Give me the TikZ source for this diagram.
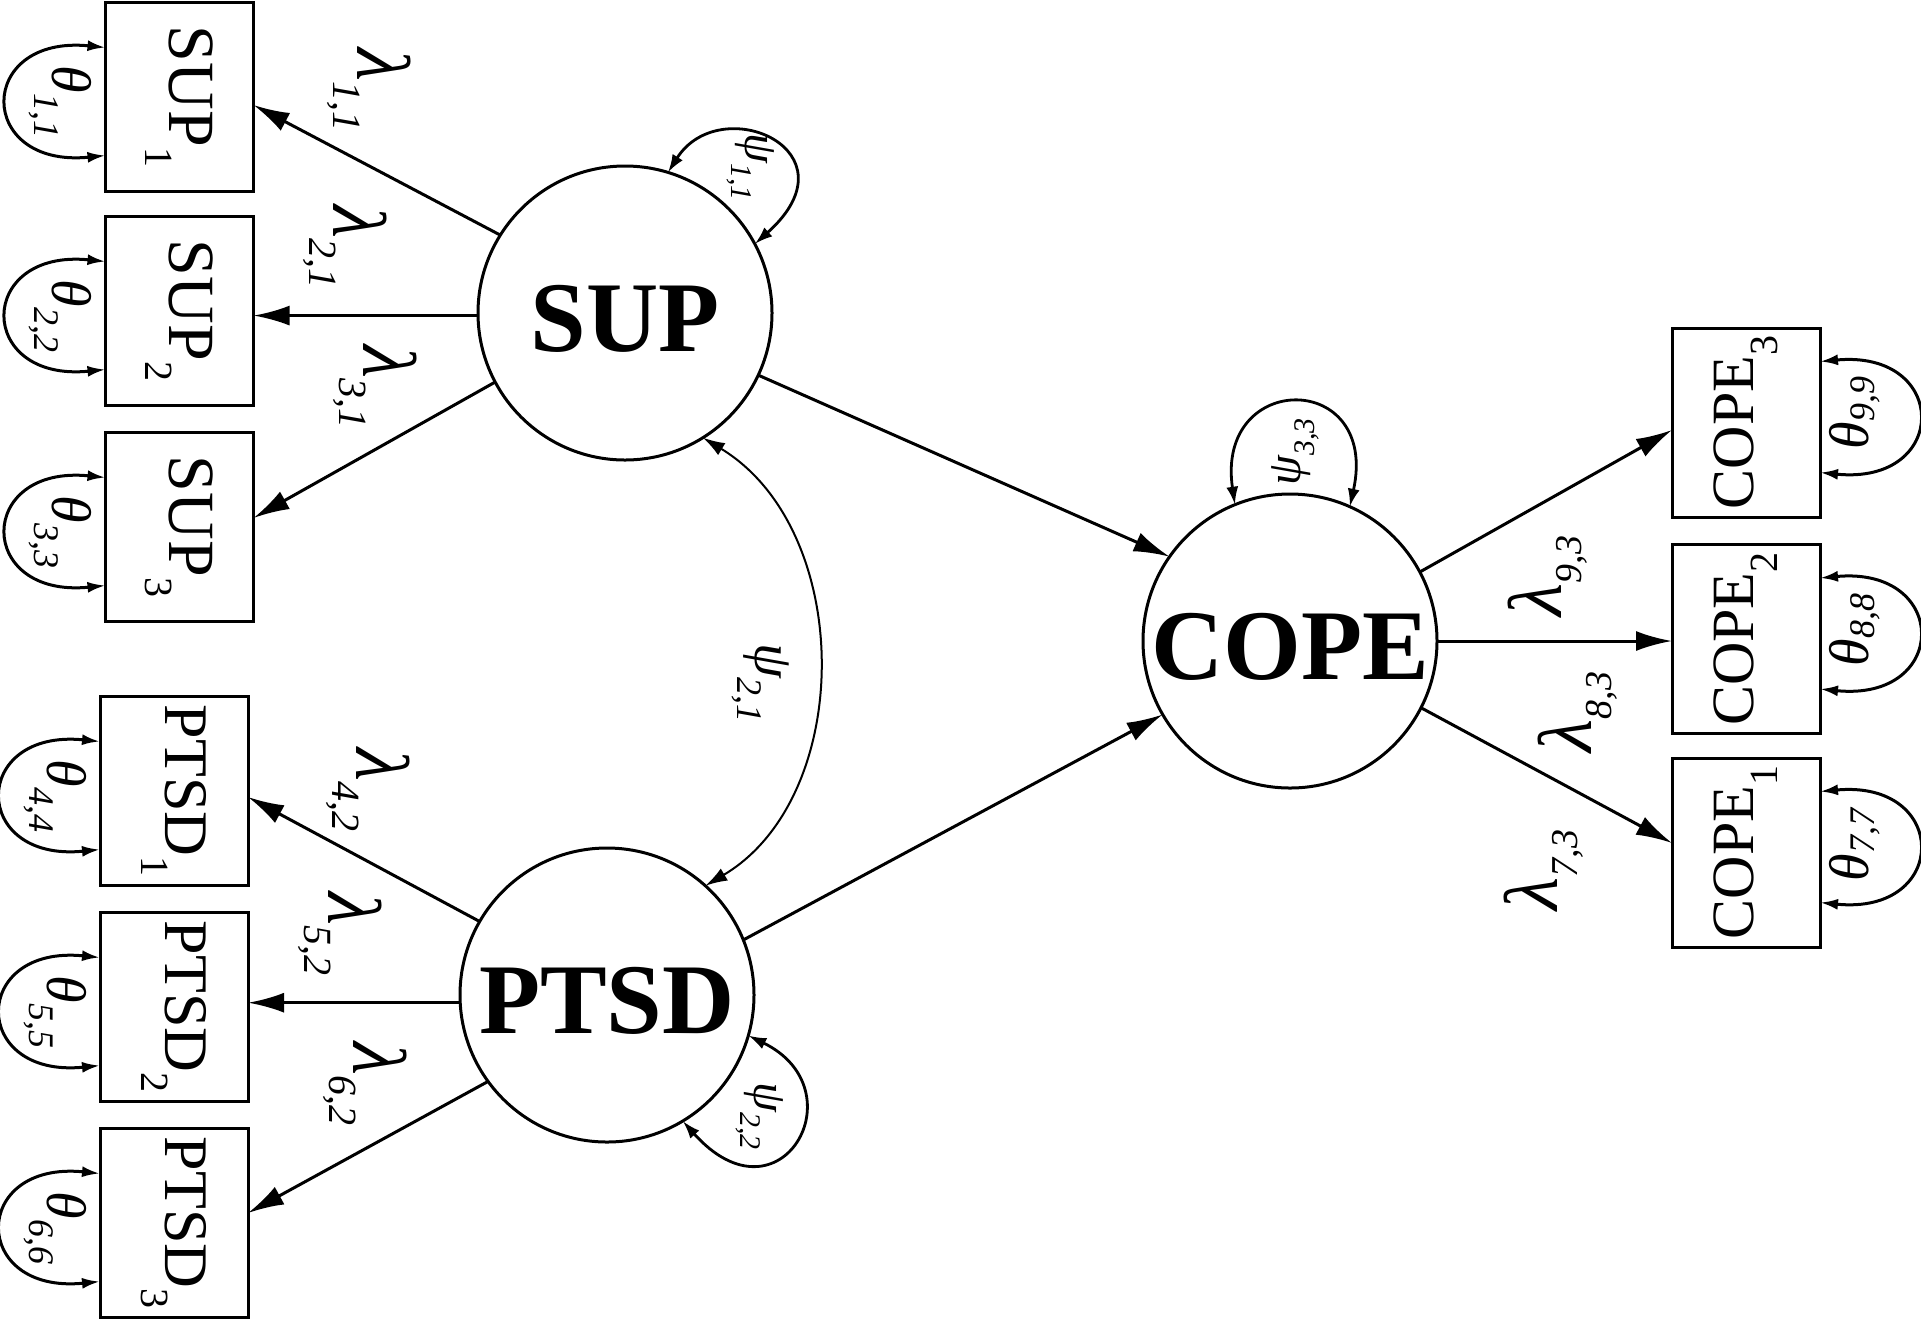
\documentclass[tikz,border=0pt]{standalone}
\usepackage{fontspec}
\setmainfont{Liberation Serif}
\usetikzlibrary{arrows.meta,calc}
\newcommand{\gl}[5]{{\fontsize{#1}{#1}\selectfont\itshape #2}\raisebox{-#5}{\fontsize{#3}{#3}\selectfont\itshape #4}}
\newcommand{\bl}[3]{{\fontsize{#1}{#1}\selectfont #2}\raisebox{-12pt}{\fontsize{20pt}{20pt}\selectfont #3}}
\begin{document}
\begin{tikzpicture}[x=0.5pt,y=-0.5pt,
  box/.style={draw,line width=1.5pt,minimum width=74pt,minimum height=94.5pt,inner sep=0pt,outer sep=0pt},
  lat/.style={draw,circle,line width=1.5pt,minimum size=147pt,inner sep=0pt,outer sep=0pt,
     font=\fontsize{50pt}{50pt}\selectfont\bfseries,text height=38pt,text depth=0pt},
  load/.style={line width=1.5pt,-{Latex[length=18pt,width=10pt]}},
  cov/.style={line width=1pt,{Latex[length=11pt,width=7pt]}-{Latex[length=11pt,width=7pt]}},
  var/.style={line width=1.5pt,{Latex[length=9pt,width=5.5pt]}-{Latex[length=9pt,width=5.5pt]}},
  lvar/.style={line width=1.4pt,{Latex[length=9pt,width=6pt]}-{Latex[length=9pt,width=6pt]}},
  lab/.style={inner sep=0pt}]
\useasboundingbox (0,0) rectangle (1921,1319);
% observed indicators
\node[box] (sup1) at (179.5,96.5) {\rotatebox{-90}{\bl{33pt}{SUP}{1}}};
\node[box] (sup2) at (179.5,310.5) {\rotatebox{-90}{\bl{33pt}{SUP}{2}}};
\node[box] (sup3) at (179.5,526.5) {\rotatebox{-90}{\bl{33pt}{SUP}{3}}};
\node[box] (ptsd1) at (174,790.5) {\rotatebox{-90}{\bl{31pt}{PTSD}{1}}};
\node[box] (ptsd2) at (174,1006.5) {\rotatebox{-90}{\bl{31pt}{PTSD}{2}}};
\node[box] (ptsd3) at (174,1222.5) {\rotatebox{-90}{\bl{31pt}{PTSD}{3}}};
\node[box] (cope3) at (1746,422.5) {\rotatebox{90}{\bl{30pt}{COPE}{3}}};
\node[box] (cope2) at (1746,639) {\rotatebox{90}{\bl{30pt}{COPE}{2}}};
\node[box] (cope1) at (1746,852.5) {\rotatebox{90}{\bl{30pt}{COPE}{1}}};
% latent variables
\node[lat] (sup) at (625,313) {SUP};
\node[lat] (ptsd) at (607,995) {PTSD};
\node[lat] (cope) at (1290,641) {COPE};
% loadings
\draw[load] (sup.148.7) -- ($(sup1.east)+(0,8.5)$);
\draw[load] (sup.181) -- (sup.181 -| sup2.east);
\draw[load] (sup.208.6) -- ($(sup3.east)+(0,-8.5)$);
\draw[load] (ptsd.150.8) -- ($(ptsd1.east)+(0,6.5)$);
\draw[load] (ptsd.183.9) -- (ptsd.183.9 -| ptsd2.east);
\draw[load] (ptsd.216.3) -- ($(ptsd3.east)+(0,-9.5)$);
\draw[load] (cope.28.6) -- ($(cope3.west)+(0,7.5)$);
\draw[load] (cope.east) -- (cope.east -| cope2.west);
\draw[load] (cope.333.3) -- ($(cope1.west)+(0,-9.5)$);
% structural paths
\draw[load] (sup.335.7) -- (cope.145);
\draw[load] (ptsd.22.2) -- (cope.210.9);
% covariance
\draw[cov] (sup.302) .. controls (855,530) and (855,797) .. (ptsd.48);
% latent variances
\draw[lvar] (sup.73) .. controls (720,90) and (860,150) .. (sup.28);
\draw[lvar] (ptsd.344.4) .. controls (860,1090) and (780,1230) .. (ptsd.301.2);
\draw[lvar] (cope.112) .. controls (1215,370) and (1380,370) .. (cope.66.5);
% residual variances, left
\foreach \b in {sup1,sup2,sup3,ptsd1,ptsd2,ptsd3}{
  \draw[var] ($(\b.west)+(0,-49)$) .. controls ($(\b.west)+(-130,-62)$) and ($(\b.west)+(-130,72)$) .. ($(\b.west)+(0,59)$);
}
% residual variances, right
\foreach \b in {cope1,cope2,cope3}{
  \draw[var] ($(\b.east)+(0,50)$) .. controls ($(\b.east)+(130,63)$) and ($(\b.east)+(130,-73)$) .. ($(\b.east)+(0,-61)$);
}
% labels
\node[lab] (l11) at (369,90) {\rotatebox{-90}{\gl{38pt}{λ}{20pt}{1,1}{12pt}}};
\node[lab] (l21) at (345,247) {\rotatebox{-90}{\gl{38pt}{λ}{20pt}{2,1}{12pt}}};
\node[lab] (l31) at (375,387) {\rotatebox{-90}{\gl{38pt}{λ}{20pt}{3,1}{12pt}}};
\node[lab] (l42) at (368,790) {\rotatebox{-90}{\gl{38pt}{λ}{20pt}{4,2}{12pt}}};
\node[lab] (l52) at (340,934) {\rotatebox{-90}{\gl{38pt}{λ}{20pt}{5,2}{12pt}}};
\node[lab] (l62) at (365,1084) {\rotatebox{-90}{\gl{38pt}{λ}{20pt}{6,2}{12pt}}};
\node[lab] (l93) at (1548,576) {\rotatebox{90}{\gl{38pt}{λ}{19pt}{9,3}{10pt}}};
\node[lab] (l83) at (1578,712) {\rotatebox{90}{\gl{38pt}{λ}{19pt}{8,3}{10pt}}};
\node[lab] (l73) at (1544,870) {\rotatebox{90}{\gl{38pt}{λ}{19pt}{7,3}{10pt}}};
\node[lab] (t11) at (60,102) {\rotatebox{-90}{\gl{28pt}{θ}{18pt}{1,1}{9pt}}};
\node[lab] (t22) at (60,316) {\rotatebox{-90}{\gl{28pt}{θ}{18pt}{2,2}{9pt}}};
\node[lab] (t33) at (60,532) {\rotatebox{-90}{\gl{28pt}{θ}{18pt}{3,3}{9pt}}};
\node[lab] (t44) at (55,796) {\rotatebox{-90}{\gl{28pt}{θ}{18pt}{4,4}{9pt}}};
\node[lab] (t55) at (55,1012) {\rotatebox{-90}{\gl{28pt}{θ}{18pt}{5,5}{9pt}}};
\node[lab] (t66) at (55,1228) {\rotatebox{-90}{\gl{28pt}{θ}{18pt}{6,6}{9pt}}};
\node[lab] (t99) at (1855,413) {\rotatebox{90}{\gl{28pt}{θ}{18pt}{9,9}{3pt}}};
\node[lab] (t88) at (1855,630) {\rotatebox{90}{\gl{28pt}{θ}{18pt}{8,8}{3pt}}};
\node[lab] (t77) at (1855,845) {\rotatebox{90}{\gl{28pt}{θ}{18pt}{7,7}{3pt}}};
\node[lab] (p11) at (751,167) {\rotatebox{-90}{\gl{24pt}{ψ}{15pt}{1,1}{7pt}}};
\node[lab] (p21) at (761,683) {\rotatebox{-90}{\gl{28pt}{ψ}{18pt}{2,1}{9pt}}};
\node[lab] (p22) at (760,1116) {\rotatebox{-90}{\gl{24pt}{ψ}{15pt}{2,2}{7pt}}};
\node[lab] (p33) at (1295,452) {\rotatebox{90}{\gl{24pt}{ψ}{15pt}{3,3}{7pt}}};
\end{tikzpicture}
\end{document}
